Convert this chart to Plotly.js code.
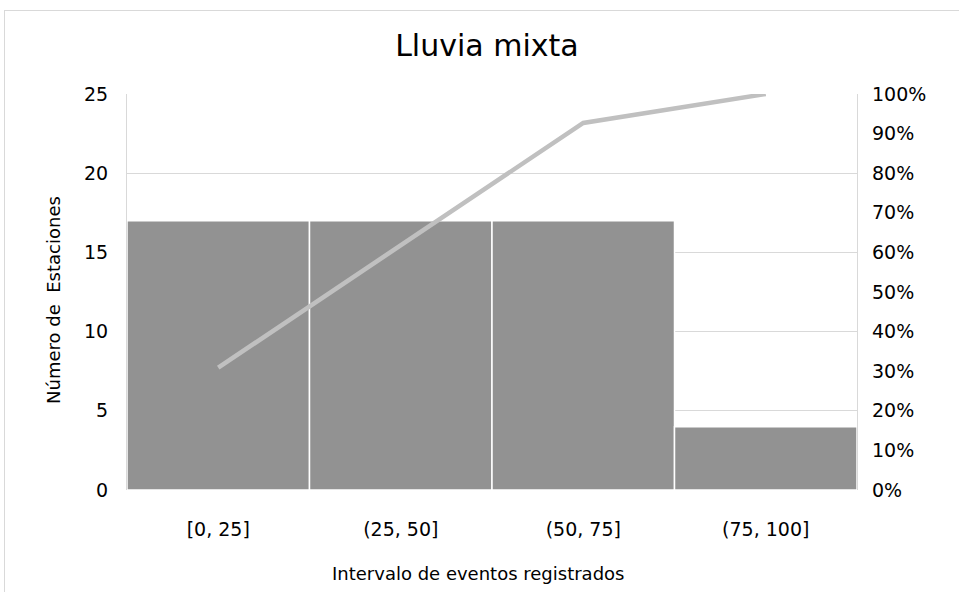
<!DOCTYPE html>
<html>
<head>
<meta charset="utf-8">
<script src="https://cdn.plot.ly/plotly-3.0.1.min.js"></script>
<style>
  html, body { margin: 0; padding: 0; background: #fff; overflow: hidden; }
  #frame { position: absolute; left: 4px; top: 10px; width: 960px; height: 590px;
           border-left: 1px solid #d9d9d9; border-top: 1px solid #d9d9d9; }
  #chart { width: 960px; height: 590px; }
</style>
</head>
<body>
<div id="frame"><div id="chart"></div></div>
<script>
const categories = ['[0, 25]', '(25, 50]', '(50, 75]', '(75, 100]'];
const stationCounts = [17, 17, 17, 4];
const cumulativePct = [0.309, 0.618, 0.927, 1.0];
const titleText = 'Lluvia mixta';
const xTitleText = 'Intervalo de eventos registrados';
const yTitleText = 'Número de  Estaciones';

const FONT = 'DejaVu Sans, sans-serif';

const bars = {
  type: 'bar',
  x: categories,
  y: stationCounts,
  marker: { color: '#929292', line: { color: '#ffffff', width: 1.5 } },
  hoverinfo: 'skip'
};
const line = {
  type: 'scatter',
  mode: 'lines',
  x: categories,
  y: cumulativePct,
  yaxis: 'y2',
  line: { color: '#c0c0c0', width: 4.5 },
  hoverinfo: 'skip'
};

const layout = {
  width: 960, height: 590,
  margin: { l: 122, r: 108, t: 83, b: 111 },
  paper_bgcolor: '#ffffff',
  plot_bgcolor: '#ffffff',
  showlegend: false,
  bargap: 0,
  font: { family: FONT, color: '#000000', size: 18 },
  title: { text: titleText, x: 0.502, xref: 'container', xanchor: 'center',
           y: 0.942, yref: 'container', yanchor: 'middle',
           font: { family: FONT, size: 30, color: '#000' } },
  xaxis: {
    type: 'category',
    showgrid: false, zeroline: false,
    showline: false, ticks: '',
    ticklabelstandoff: 26,
    tickfont: { family: FONT, size: 19, color: '#000' }
  },
  yaxis: {
    range: [0, 25], dtick: 5, tick0: 0,
    showgrid: true, gridcolor: '#d9d9d9', gridwidth: 1,
    zeroline: false, showline: true, linecolor: '#d9d9d9', linewidth: 1, mirror: true,
    ticks: '', ticklabelstandoff: 14,
    tickfont: { family: FONT, size: 19, color: '#000' }
  },
  yaxis2: {
    overlaying: 'y', side: 'right',
    range: [0, 1], dtick: 0.1, tick0: 0, tickformat: '.0%',
    showgrid: false, zeroline: false, showline: false,
    ticks: '', ticklabelstandoff: 14,
    tickfont: { family: FONT, size: 19, color: '#000' }
  },
  annotations: [
    { text: xTitleText, xref: 'paper', yref: 'paper', x: 0.481, y: -0.21,
      xanchor: 'center', yanchor: 'middle', showarrow: false,
      font: { family: FONT, size: 18, color: '#000' } },
    { text: yTitleText, xref: 'paper', yref: 'paper', x: -0.1, y: 0.48,
      xanchor: 'center', yanchor: 'middle', showarrow: false, textangle: -90,
      font: { family: FONT, size: 18, color: '#000' } }
  ]
};

Plotly.newPlot('chart', [bars, line], layout, { displayModeBar: false, staticPlot: true });
</script>
</body>
</html>
